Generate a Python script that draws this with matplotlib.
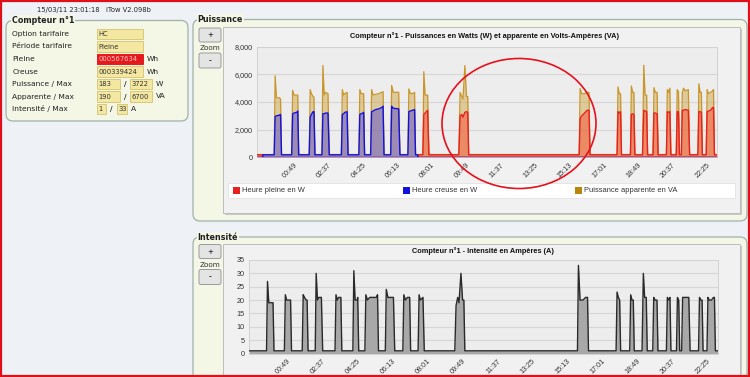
import matplotlib.pyplot as plt
from matplotlib.patches import FancyBboxPatch, Rectangle, Ellipse
from matplotlib.ticker import FuncFormatter, MultipleLocator

# ── data: minutes since midnight (negative = previous evening) ──────────
minutes = [
    -67, -50, -48,
    -13, -10, -6, 4, 7, 10,
    42, 45, 49, 58, 61, 64,
    97, 100, 104, 109, 112, 115,
    137, 140, 144, 148, 156, 160,
    198, 201, 205, 209, 216, 219,
    253, 256, 260, 266, 268, 271,
    290, 293, 298, 305, 315, 325, 329, 332,
    353, 356, 361, 378, 382,
    407, 410, 415, 421, 428, 431,
    437, 439,
    454, 457, 461, 469, 473,
    567, 571, 576, 580, 586, 591, 595, 598,
    945, 948, 953, 962, 970, 976, 979,
    1064, 1067, 1071, 1075, 1078,
    1106, 1109, 1113, 1117, 1120,
    1144, 1148, 1152, 1157, 1160,
    1177, 1180, 1184, 1190, 1193,
    1219, 1222, 1226, 1230, 1233,
    1250, 1253, 1257, 1260,
    1266, 1269, 1273, 1278, 1288, 1292,
    1318, 1321, 1325, 1329, 1332,
    1344, 1347, 1351, 1358, 1364, 1367, 1370,
    1378,
]
va = [
    200, 200, 200,
    200, 5900, 4300, 4300, 4200, 200,
    200, 4850, 4500, 4500, 4500, 200,
    200, 4900, 4600, 4400, 4350, 200,
    200, 6640, 4500, 4700, 4600, 200,
    200, 4900, 4500, 4600, 4700, 200,
    200, 4900, 4600, 4600, 4600, 200,
    200, 4900, 4500, 4550, 4600, 4700, 4750, 200,
    200, 5200, 4700, 4700, 200,
    200, 4950, 4600, 4600, 4700, 200,
    200, 200,
    200, 6190, 4500, 4500, 200,
    200, 4690, 4400, 4210, 6640, 4400, 4400, 200,
    200, 4970, 4600, 4600, 4700, 4700, 200,
    200, 5090, 4600, 4600, 200,
    200, 5160, 4700, 4700, 200,
    200, 6660, 4500, 4500, 200,
    200, 5040, 4700, 4700, 200,
    200, 4900, 4700, 5000, 200,
    200, 4900, 4750, 200,
    200, 4700, 5000, 4800, 4900, 200,
    200, 5330, 4700, 4700, 200,
    200, 4900, 4600, 4700, 4800, 4900, 200,
    200,
]
hp = [
    180, 180, 0,
    0, 0, 0, 0, 0, 0,
    0, 0, 0, 0, 0, 0,
    0, 0, 0, 0, 0, 0,
    0, 0, 0, 0, 0, 0,
    0, 0, 0, 0, 0, 0,
    0, 0, 0, 0, 0, 0,
    0, 0, 0, 0, 0, 0, 0, 0,
    0, 0, 0, 0, 0,
    0, 0, 0, 0, 0, 0,
    0, 180,
    180, 3100, 3200, 3400, 180,
    180, 3000, 3100, 2900, 3250, 3300, 3250, 180,
    180, 2800, 3000, 3200, 3400, 3400, 180,
    180, 3300, 3200, 3300, 180,
    180, 3100, 3150, 3100, 180,
    180, 3400, 3350, 3300, 180,
    180, 3200, 3200, 3150, 180,
    180, 3300, 3250, 3300, 180,
    180, 3300, 3300, 180,
    180, 3400, 3400, 3450, 3400, 180,
    180, 3300, 3300, 3250, 180,
    180, 3300, 3350, 3400, 3600, 3600, 180,
    180,
]
hc = [
    0, 0, 180,
    180, 2950, 3000, 3050, 3100, 180,
    180, 3150, 3200, 3250, 3350, 180,
    180, 2900, 3100, 3300, 3300, 180,
    180, 3150, 3150, 3200, 3200, 180,
    180, 3100, 3150, 3250, 3300, 180,
    180, 3100, 3150, 3200, 3250, 180,
    180, 3300, 3350, 3450, 3500, 3600, 3700, 180,
    180, 3700, 3550, 3500, 180,
    180, 3300, 3350, 3400, 3450, 180,
    180, 0,
    0, 0, 0, 0, 0,
    0, 0, 0, 0, 0, 0, 0, 0,
    0, 0, 0, 0, 0, 0, 0,
    0, 0, 0, 0, 0,
    0, 0, 0, 0, 0,
    0, 0, 0, 0, 0,
    0, 0, 0, 0, 0,
    0, 0, 0, 0, 0,
    0, 0, 0, 0,
    0, 0, 0, 0, 0, 0,
    0, 0, 0, 0, 0,
    0, 0, 0, 0, 0, 0, 0,
    0,
]
amps = [
    1, 1, 1,
    1, 27, 19, 19, 19, 1,
    1, 22, 20, 20, 20, 1,
    1, 22, 21, 20, 20, 1,
    1, 30, 20, 21, 21, 1,
    1, 22, 20, 21, 21, 1,
    1, 31, 20, 20, 21, 1,
    1, 22, 20, 21, 21, 21, 22, 1,
    1, 24, 21, 21, 1,
    1, 22, 20, 21, 21, 1,
    1, 1,
    1, 22, 20, 21, 1,
    1, 18, 21, 19, 30, 20, 20, 1,
    1, 33, 20, 20, 21, 21, 1,
    1, 23, 21, 20, 1,
    1, 22, 20, 20, 1,
    1, 30, 21, 21, 1,
    1, 21, 20, 20, 1,
    1, 21, 20, 21, 1,
    1, 21, 20, 1,
    1, 21, 21, 21, 21, 1,
    1, 21, 20, 20, 1,
    1, 21, 20, 20, 21, 21, 1,
    1,
]
time_labels = ["00:49", "02:37", "04:25", "06:13", "08:01", "09:49", "11:37",
               "13:25", "15:13", "17:01", "18:49", "20:37", "22:25"]
legend_names = ["Heure pleine en W", "Heure creuse en W", "Puissance apparente en VA"]

# left panel contents
field_names = ["Option tarifaire", "Période tarifaire", "Pleine", "Creuse",
               "Puissance / Max", "Apparente / Max", "Intensité / Max"]
field_values = [("HC",), ("Pleine",), ("000567634",), ("000339424",),
                ("183", "3722"), ("190", "6700"), ("1", "33")]
field_units = ["", "", "Wh", "Wh", "W", "VA", "A"]

COLORS = {
    "page": "#EEF2F6",
    "fs_fill": "#F4F6E6",
    "fs_edge": "#9FB2AA",
    "chart_box": "#F1F1F1",
    "plot_bg": "#EDEDED",
    "grid": "#D6D6D6",
    "input": "#F3E7A2",
    "input_edge": "#D9C979",
    "red_box": "#E41A1C",
    "hp": "#E82020",
    "hc": "#1212E0",
    "va": "#C8962A",
    "text": "#222222",
    "ellipse": "#E8101C",
}

W, H = 750, 377
plt.rcParams["font.family"] = ["DejaVu Sans"]
fig = plt.figure(figsize=(W / 100, H / 100), dpi=100)
fig.patch.set_facecolor(COLORS["page"])

bg = fig.add_axes([0, 0, 1, 1])
bg.set_xlim(0, W)
bg.set_ylim(H, 0)
bg.axis("off")


def px_axes(x0, y0, x1, y1, **kw):
    return fig.add_axes([x0 / W, 1 - y1 / H, (x1 - x0) / W, (y1 - y0) / H], **kw)


def rbox(x0, y0, x1, y1, fc, ec, r=6, lw=0.9, z=1):
    bg.add_patch(FancyBboxPatch((x0, y0), x1 - x0, y1 - y0,
                                boxstyle=f"round,pad=0,rounding_size={r}",
                                fc=fc, ec=ec, lw=lw, zorder=z))


def fieldset(x0, y0, x1, y1, label, lx):
    rbox(x0, y0, x1, y1, COLORS["fs_fill"], COLORS["fs_edge"], r=7)
    bg.text(lx, y0, label, fontsize=5.8, fontweight="bold", va="center",
            ha="left", color=COLORS["text"], zorder=3,
            bbox=dict(fc=COLORS["fs_fill"], ec="none", pad=0.6))


def zoom_buttons(x, y):
    rbox(x, y, x + 22, y + 14, "#E4E4E4", "#9A9A9A", r=2, lw=0.7, z=2)
    bg.text(x + 11, y + 7, "+", fontsize=5, ha="center", va="center", zorder=3)
    bg.text(x + 11, y + 20.5, "Zoom", fontsize=5.2, ha="center", va="center",
            color="#333333", zorder=3)
    rbox(x, y + 25, x + 22, y + 40, "#E4E4E4", "#9A9A9A", r=2, lw=0.7, z=2)
    bg.text(x + 11, y + 32.5, "-", fontsize=5.5, ha="center", va="center", zorder=3)


def chart_box(x0, y0, x1, y1):
    bg.add_patch(Rectangle((x0 + 2, y0 + 2), x1 - x0, y1 - y0, fc="#C9C9C9",
                           ec="none", zorder=2))
    bg.add_patch(Rectangle((x0, y0), x1 - x0, y1 - y0, fc=COLORS["chart_box"],
                           ec="#BDBDBD", lw=0.7, zorder=2))


# ── header ───────────────────────────────────────────────────────────
bg.text(37, 10, "15/03/11 23:01:18", fontsize=4.9, va="center", color=COLORS["text"])
bg.text(106, 10, "iTow V2.098b", fontsize=4.9, va="center", color=COLORS["text"])

# ── left panel ───────────────────────────────────────────────────────
fieldset(6, 20.5, 188, 121, "Compteur n°1", 12)
row_y = [34, 46.5, 59, 71.5, 84, 96.5, 109]
for i, (name, vals, unit) in enumerate(zip(field_names, field_values, field_units)):
    y = row_y[i]
    bg.text(12.5, y, name, fontsize=5.4, va="center", color=COLORS["text"], zorder=3)
    if len(vals) == 1:
        spans = [(97, 143)]
        unit_x = 147
    elif unit == "A":
        spans = [(97, 106), (116.5, 126.5)]
        unit_x = 130.5
    else:
        spans = [(97, 120), (129.5, 152)]
        unit_x = 156
    for (a, b), v in zip(spans, vals):
        red = name == "Pleine"
        bg.add_patch(Rectangle((a, y - 5.2), b - a, 10.4,
                               fc=COLORS["red_box"] if red else COLORS["input"],
                               ec=COLORS["red_box"] if red else COLORS["input_edge"],
                               lw=0.7, zorder=3))
        bg.text(a + 1.8, y + 0.3, v, fontsize=4.9, va="center",
                color="#F7C4C4" if red else "#333333", zorder=4)
    if len(vals) == 2:
        bg.text(spans[0][1] + 3.5, y, "/", fontsize=5.4, va="center", zorder=3)
    if unit:
        bg.text(unit_x, y, unit, fontsize=5.4, va="center", color=COLORS["text"], zorder=3)

# ── fieldsets, chart boxes ───────────────────────────────────────────
fieldset(193, 19.5, 747, 221, "Puissance", 197.5)
fieldset(193, 237, 747, 400, "Intensité", 197.5)
chart_box(222.5, 27, 740, 213)
chart_box(222.5, 244, 740, 400)
zoom_buttons(199, 28)
zoom_buttons(199, 244.5)

bg.text(485, 36, "Compteur n°1 - Puissances en Watts (W) et apparente en Volts-Ampères (VA)",
        fontsize=5.3, fontweight="bold", ha="center", va="center",
        family="Liberation Sans", color="#111111", zorder=3)
bg.text(483, 251, "Compteur n°1 - Intensité en Ampères (A)",
        fontsize=5.3, fontweight="bold", ha="center", va="center",
        family="Liberation Sans", color="#111111", zorder=3)

# legend
bg.add_patch(Rectangle((228, 182.5), 507, 15, fc="white", ec="#E2E2E2", lw=0.6, zorder=3))
leg_x = [233, 403, 575]
leg_c = [COLORS["hp"], COLORS["hc"], "#B8860B"]
for lx, lc, name in zip(leg_x, leg_c, legend_names):
    bg.add_patch(Rectangle((lx, 187), 6.5, 6.5, fc=lc, ec="none", zorder=4))
    bg.text(lx + 9, 190.5, name, fontsize=5.4, va="center", family="Liberation Sans",
            color="#333333", zorder=4)

# ── charts ───────────────────────────────────────────────────────────
tick_pos = [int(t[:2]) * 60 + int(t[3:]) for t in time_labels]


def style_axis(a):
    a.set_facecolor(COLORS["plot_bg"])
    a.set_xlim(minutes[0], minutes[-1])
    a.set_xticks(tick_pos)
    a.set_xticklabels(time_labels, rotation=45, ha="right", va="top",
                      rotation_mode="anchor", family="Liberation Sans",
                      fontsize=5.2, color="#333333")
    a.tick_params(axis="both", length=0, pad=3)
    a.tick_params(axis="y", labelsize=5.2, labelcolor="#333333")
    for lbl in a.get_yticklabels():
        lbl.set_family("Liberation Sans")
    a.grid(axis="y", color=COLORS["grid"], lw=0.8)
    a.set_axisbelow(True)
    for s in a.spines.values():
        s.set_color("#D2D2D2")
        s.set_linewidth(0.7)


ax1 = px_axes(257, 46.7, 717, 157.3)
ax1.fill_between(minutes, va, color="#D2AC58", alpha=0.55, lw=0, zorder=2)
ax1.plot(minutes, va, color=COLORS["va"], lw=0.9, zorder=3)
ax1.fill_between(minutes, hp, color="#F4583C", alpha=0.55, lw=0, zorder=4)
ax1.plot(minutes, hp, color=COLORS["hp"], lw=1.0, zorder=5)
ax1.fill_between(minutes, hc, color="#3A30D8", alpha=0.4, lw=0, zorder=6)
ax1.plot(minutes, hc, color=COLORS["hc"], lw=1.0, zorder=7)
ax1.set_ylim(0, 8000)
ax1.yaxis.set_major_locator(MultipleLocator(2000))
ax1.yaxis.set_major_formatter(FuncFormatter(lambda v, p: f"{v:,.0f}"))
style_axis(ax1)

ax2 = px_axes(249, 260, 718, 353.5)
ax2.fill_between(minutes, amps, color="#A8A8A8", lw=0, zorder=2)
ax2.plot(minutes, amps, color="#2A2A2A", lw=1.0, zorder=3)
ax2.set_ylim(0, 35)
ax2.yaxis.set_major_locator(MultipleLocator(5))
style_axis(ax2)

# ── overlay: red hand-drawn ellipse and outer red frame ──────────────
top = fig.add_axes([0, 0, 1, 1])
top.set_xlim(0, W)
top.set_ylim(H, 0)
top.axis("off")
top.patch.set_alpha(0)
top.add_patch(Ellipse((519, 123.5), 154, 130, fill=False, ec=COLORS["ellipse"], lw=1.2))
top.add_patch(Rectangle((0.8, 0.8), W - 1.6, H - 2.2, fill=False,
                        ec="#E0101A", lw=1.6))

fig.savefig("out.png", dpi=100, facecolor=fig.get_facecolor())
